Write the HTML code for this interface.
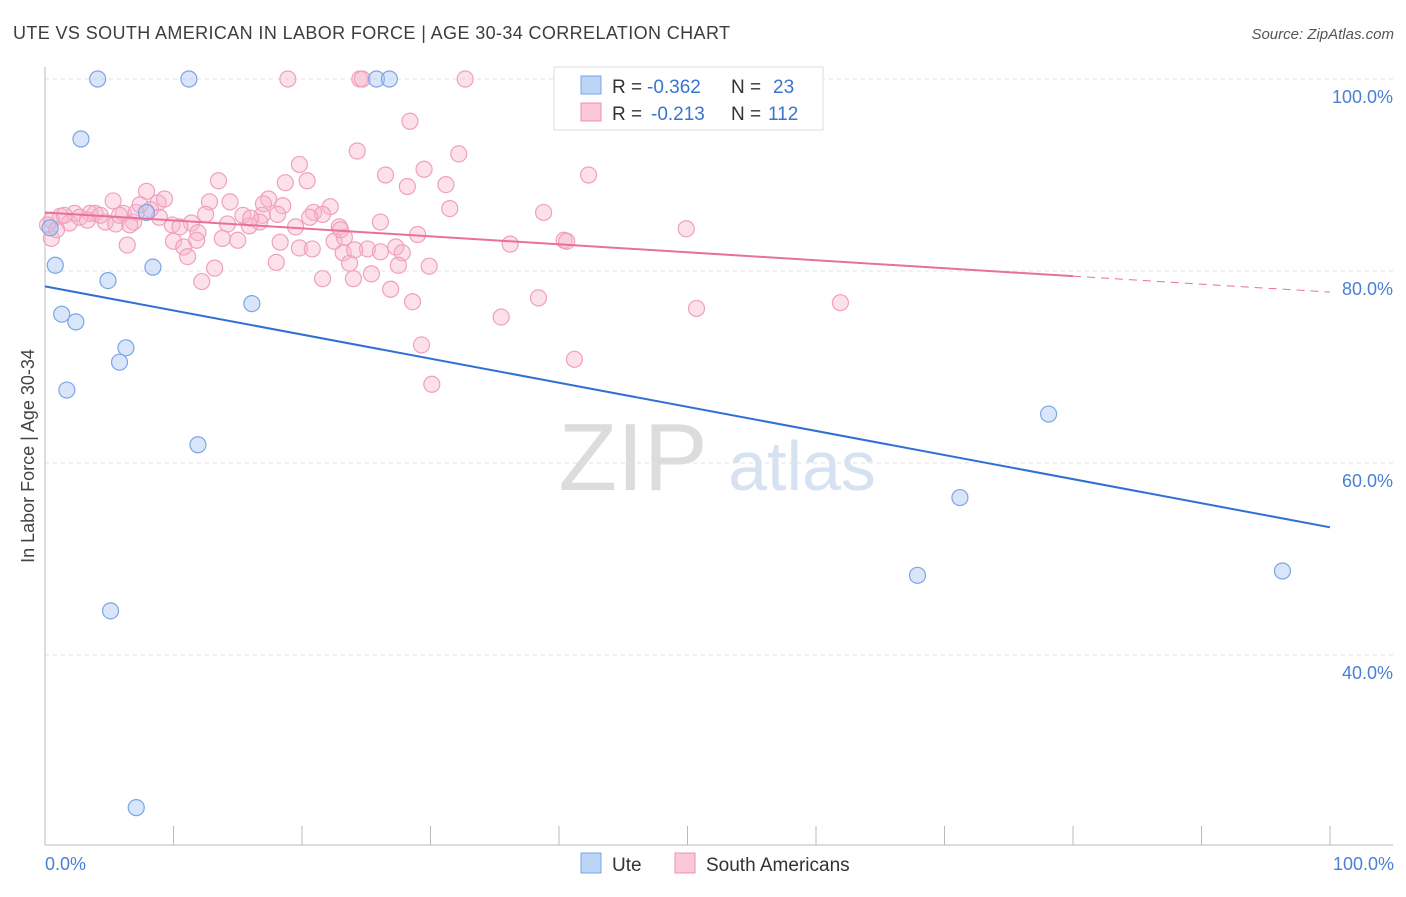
<!DOCTYPE html>
<html><head><meta charset="utf-8"><style>
body{margin:0;background:#fff;font-family:"Liberation Sans",sans-serif;}
svg text{font-family:"Liberation Sans",sans-serif;}
</style></head><body>
<svg id="chart" width="1406" height="892" xmlns="http://www.w3.org/2000/svg">
<text x="13" y="39" font-size="18" fill="#3d3d3d" textLength="717" lengthAdjust="spacing">UTE VS SOUTH AMERICAN IN LABOR FORCE | AGE 30-34 CORRELATION CHART</text>
<text x="1394" y="39" font-size="15" fill="#555" font-style="italic" text-anchor="end">Source: ZipAtlas.com</text>
<g><text x="633" y="490" font-size="96" fill="#dcdcdc" text-anchor="middle" font-family="Liberation Serif">ZIP</text><text x="802" y="490" font-size="70" fill="#d6e2f2" text-anchor="middle">atlas</text></g>
<g id="grid"></g>
<line x1="45" y1="67" x2="45" y2="845" stroke="#bbb"/>
<line x1="45" y1="845" x2="1393" y2="845" stroke="#bbb"/>
<text transform="translate(34,456) rotate(-90)" font-size="18" fill="#444" text-anchor="middle">In Labor Force | Age 30-34</text>
<text x="45" y="870" font-size="18" fill="#4a7fd6">0.0%</text>
<text x="1394" y="870" font-size="18" fill="#4a7fd6" text-anchor="end">100.0%</text>
<g id="pts"></g>
<g id="lines"></g>
<g>
<rect x="554" y="67" width="269" height="63" fill="#fff" stroke="#ddd"/>
<rect x="581" y="76" width="20" height="18" fill="#bcd4f6" stroke="#7aa6e6"/>
<rect x="581" y="103" width="20" height="18" fill="#fac8d8" stroke="#ec90b0"/>
<text x="612" y="93" font-size="19" fill="#333">R =</text>
<text x="647" y="93" font-size="19" fill="#3a73d0">-0.362</text>
<text x="731" y="93" font-size="19" fill="#333">N =</text>
<text x="773" y="93" font-size="19" fill="#3a73d0">23</text>
<text x="612" y="120" font-size="19" fill="#333">R =</text>
<text x="651" y="120" font-size="19" fill="#3a73d0">-0.213</text>
<text x="731" y="120" font-size="19" fill="#333">N =</text>
<text x="768" y="120" font-size="19" fill="#3a73d0">112</text>
</g>
<g>
<rect x="581" y="853" width="20" height="20" fill="#bcd4f6" stroke="#7aa6e6"/>
<text x="612" y="871" font-size="19" fill="#333">Ute</text>
<rect x="675" y="853" width="20" height="20" fill="#fac8d8" stroke="#ec90b0"/>
<text x="706" y="871" font-size="19" fill="#333">South Americans</text>
</g>
</svg>
<script>
const yTicks=[100,80,60,40];
const yTickLabels=["100.0%","80.0%","60.0%","40.0%"];
const uteX=[4.1,11.2,25.8,26.8,2.8,0.8,4.9,8.4,7.9,16.1,1.3,2.4,6.3,5.8,1.7,11.9,78.1,71.2,67.9,96.3,5.1,7.1,0.4];
const uteY=[100,100,100,100,93.75,80.6,79.0,80.4,86.1,76.6,75.5,74.7,72.0,70.5,67.6,61.9,65.1,56.4,48.3,48.75,44.6,24.1,84.5];
const saX=[18.9,24.5,24.7,32.7,28.4,19.8,24.3,32.2,29.5,26.5,42.3,13.5,7.9,18.7,20.4,28.2,31.2,8.8,9.3,12.8,14.4,17.4,17.0,18.5,5.3,38.8,31.5,22.2,20.9,21.6,12.5,16.9,15.4,6.1,3.9,2.3,1.2,0.5,1.9,4.7,6.9,9.9,11.4,14.2,15.9,19.5,22.9,26.1,49.9,16.7,5.5,3.5,7.1,8.2,10.5,11.9,13.8,15.0,22.5,23.3,29.0,36.2,40.4,40.6,6.4,10.0,10.8,11.8,18.3,19.8,20.8,23.2,25.1,26.1,27.3,27.8,18.0,23.7,27.5,29.9,13.2,11.1,12.2,21.6,24.0,25.4,26.9,28.6,38.4,35.5,50.7,61.9,29.3,41.2,30.1,0.5,0.2,1.5,2.7,4.3,5.8,7.4,8.9,16.0,20.6,23.0,18.1,24.1,6.6,3.3,0.9];
const saY=[100,100,100,100,95.6,91.1,92.5,92.2,90.6,90.0,90.0,89.4,88.3,89.2,89.4,88.8,89.0,87.1,87.5,87.2,87.2,87.5,87.0,86.8,87.3,86.1,86.5,86.7,86.1,85.9,85.9,85.8,85.8,86.0,86.0,86.0,85.7,85.3,85.0,85.1,85.1,84.8,85.0,84.9,84.7,84.6,84.6,85.1,84.4,85.1,84.9,86.0,86.1,86.4,84.6,84.0,83.4,83.2,83.1,83.5,83.8,82.8,83.2,83.1,82.7,83.1,82.5,83.2,83.0,82.4,82.3,81.9,82.3,82.0,82.5,81.9,80.9,80.8,80.6,80.5,80.3,81.5,78.9,79.2,79.2,79.7,78.1,76.8,77.2,75.2,76.1,76.7,72.3,70.8,68.2,83.4,84.8,85.8,85.6,85.8,85.8,86.9,85.6,85.5,85.6,84.3,85.9,82.2,84.8,85.3,84.3];
const uteTrend=[78.4,53.3];
const saTrend=[86.1,77.8];
const NS="http://www.w3.org/2000/svg";
const xs=v=>45+v*12.85, ys=v=>79+(100-v)*9.6;
function mk(t,a,p){const e=document.createElementNS(NS,t);for(const k in a)e.setAttribute(k,a[k]);p.appendChild(e);return e;}
const grid=document.getElementById('grid');
yTicks.forEach((t,i)=>{
 const l=mk('line',{x1:45,x2:1393,y1:ys(t),y2:ys(t),stroke:'#e2e2e2','stroke-dasharray':'4,4'},grid);
 
 
 const tx=mk('text',{x:1393,y:ys(t)+24,'font-size':18,fill:'#4a7fd6','text-anchor':'end'},grid);
 tx.textContent=yTickLabels[i];
 
 
});
for(let i=0;i<=10;i++){
 const tk=mk('line',{x1:xs(i*10),x2:xs(i*10),y1:826,y2:845,stroke:'#bbb'},grid);
 
 
}
const pts=document.getElementById('pts');
saX.forEach((x,i)=>{
 const c=mk('circle',{cx:xs(x),cy:ys(saY[i]),r:8,fill:'rgba(248,180,204,0.4)',stroke:'#f0a0bc','stroke-width':1.2},pts);
 
 
});
uteX.forEach((x,i)=>{
 const c=mk('circle',{cx:xs(x),cy:ys(uteY[i]),r:8,fill:'rgba(170,200,245,0.45)',stroke:'#7aa6e6','stroke-width':1.2},pts);
 
 
});
const lines=document.getElementById('lines');
const ul=mk('line',{x1:xs(0),y1:ys(uteTrend[0]),x2:xs(100),y2:ys(uteTrend[1]),stroke:'#2f6fd6','stroke-width':2},lines);


const sm=v=>saTrend[0]+(saTrend[1]-saTrend[0])*v/100;
const sl=mk('line',{x1:xs(0),y1:ys(sm(0)),x2:xs(80),y2:ys(sm(80)),stroke:'#e8709a','stroke-width':2},lines);


const sd=mk('line',{x1:xs(80),y1:ys(sm(80)),x2:xs(100),y2:ys(sm(100)),stroke:'#e8709a','stroke-width':1,'stroke-dasharray':'8,6'},lines);


</script>
</body></html>
